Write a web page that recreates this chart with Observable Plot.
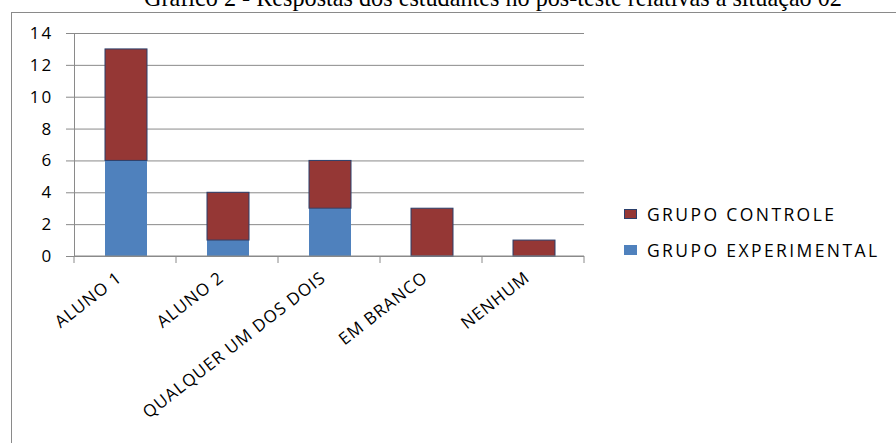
<!DOCTYPE html>
<html><head><meta charset="utf-8">
<script src="https://cdn.jsdelivr.net/npm/d3@7"></script>
<script src="https://cdn.jsdelivr.net/npm/@observablehq/plot@0.6"></script>
<style>
html,body{margin:0;padding:0;background:#fff;overflow:hidden;}
#wrap{position:relative;width:896px;height:443px;overflow:hidden;}
#title{position:absolute;left:0;width:986px;text-align:center;top:-16px;font-family:"Liberation Serif",serif;font-size:24.2px;color:#000;white-space:nowrap;}
#frame{position:absolute;left:11px;top:12px;width:900px;height:440px;border:1px solid #8a8a8a;box-sizing:border-box;}
#chart{position:absolute;left:0;top:0;}
#legend{position:absolute;left:624px;top:196px;font-family:"Open Sans",sans-serif;font-size:17.5px;color:#000;letter-spacing:2.4px;}
#legend .item{display:flex;align-items:center;height:36px;}
#legend .sw{width:13px;height:10px;margin-right:10px;box-sizing:border-box;}
</style></head>
<body><div id="wrap">
<div id="title">Gráfico 2 - Respostas dos estudantes no pós-teste relativas à situação 02</div>
<div id="frame"></div>
<div id="chart"></div>
<div id="legend"></div>
</div>
<script>
const categories = ["ALUNO 1", "ALUNO 2", "QUALQUER UM DOS DOIS", "EM BRANCO", "NENHUM"];
const experimental = [6, 1, 3, 0, 0];
const controle = [7, 3, 3, 3, 1];
const seriesNames = ["GRUPO EXPERIMENTAL", "GRUPO CONTROLE"];
const seriesColors = ["#4F81BD", "#953735"];
const yTicks = [0, 2, 4, 6, 8, 10, 12, 14];

const rows = [];
categories.forEach((c, i) => {
  rows.push({cat: c, series: seriesNames[0], value: experimental[i]});
  rows.push({cat: c, series: seriesNames[1], value: controle[i]});
});

const plot = Plot.plot({
  width: 896, height: 443,
  marginLeft: 73, marginRight: 312, marginTop: 33, marginBottom: 187,
  style: {fontFamily: "'Open Sans', sans-serif", fontSize: "16px", color: "#000", background: "transparent"},
  x: {domain: categories, padding: 0, label: null},
  y: {domain: [0, 14], ticks: yTicks, label: null},
  color: {domain: seriesNames, range: seriesColors},
  marks: [
    Plot.ruleY(yTicks, {stroke: "#8a8a8a", strokeWidth: 1}),
    Plot.barY(rows.filter(d => d.value > 0), Plot.stackY({
      x: "cat", y: "value", fill: "series", order: seriesNames,
      insetLeft: 31, insetRight: 29,
      stroke: d => d.series === seriesNames[1] ? "#2b3f6b" : "none", strokeWidth: 1
    })),
    Plot.axisY({ticks: yTicks, tickSize: 7, tickPadding: 13, stroke: "#8a8a8a", label: null, fontSize: 17}),
    Plot.axisX({tickSize: 0, tickRotate: -38, tickPadding: 19, dx: -6, label: null, fontSize: 17}),
    Plot.ruleX([0], {x: () => categories[0], dx: -51, y1: 0, y2: 14, stroke: "#8a8a8a"})
  ]
});
document.getElementById("chart").appendChild(plot);

// letter spacing to mimic the horizontally stretched original text
d3.select(plot).selectAll("g[aria-label='y-axis tick label'] text").style("letter-spacing", "2.2px");
d3.select(plot).selectAll("g[aria-label='x-axis tick label'] text").style("letter-spacing", "1px");

// band-boundary ticks on the x axis
const xs = plot.scale("x"), ys = plot.scale("y");
const svg = d3.select(plot);
const step = xs.step;
const y0 = ys.apply(0);
const bounds = [...categories.map(c => xs.apply(c)), xs.apply(categories[categories.length-1]) + step];
svg.append("g").selectAll("line").data(bounds).join("line")
  .attr("x1", d => d).attr("x2", d => d).attr("y1", y0).attr("y2", y0 + 7)
  .attr("stroke", "#8a8a8a");
svg.append("line").attr("x1", bounds[0]).attr("x2", bounds[bounds.length-1]).attr("y1", y0).attr("y2", y0).attr("stroke", "#8a8a8a");

// legend
const lg = d3.select("#legend");
[1, 0].forEach(i => {
  const it = lg.append("div").attr("class", "item");
  it.append("div").attr("class", "sw").style("background", seriesColors[i])
    .style("border", i === 1 ? "1px solid #2b3f6b" : "none");
  it.append("span").text(seriesNames[i]);
});
</script>
</body></html>
